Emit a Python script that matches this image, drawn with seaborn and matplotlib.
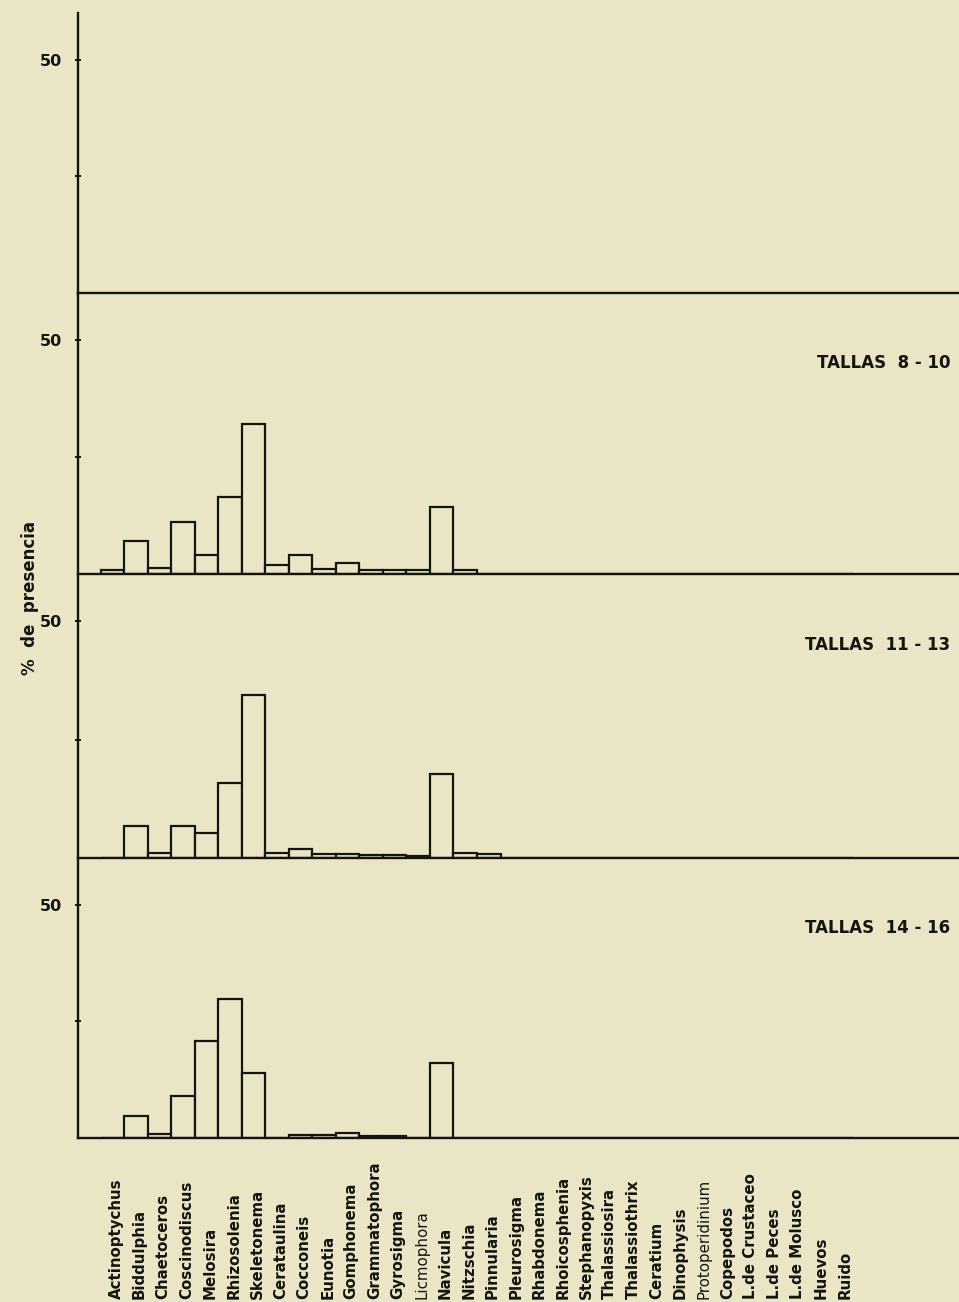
import matplotlib
matplotlib.use("Agg")
import matplotlib.pyplot as plt
import matplotlib.transforms as mtransforms
import seaborn as sns
import pandas as pd

# ---------------- data ----------------
categories = [
    "Actinoptychus", "Biddulphia", "Chaetoceros", "Coscinodiscus", "Melosira",
    "Rhizosolenia", "Skeletonema", "Cerataulina", "Cocconeis", "Eunotia",
    "Gomphonema", "Grammatophora", "Gyrosigma", "Licmophora", "Navicula",
    "Nitzschia", "Pinnularia", "Pleurosigma", "Rhabdonema", "Rhoicosphenia",
    "Stephanopyxis", "Thalassiosira", "Thalassiothrix", "Ceratium", "Dinophysis",
    "Protoperidinium", "Copepodos", "L.de Crustaceo", "L.de Peces",
    "L.de Molusco", "Huevos", "Ruido",
]

# top panel carries no bars
tallas_top = [0, 0, 0, 0, 0, 0, 0, 0, 0, 0, 0, 0, 0, 0, 0, 0,
              0, 0, 0, 0, 0, 0, 0, 0, 0, 0, 0, 0, 0, 0, 0, 0]
tallas_8_10 = [0.9, 7.1, 1.3, 11.2, 4.1, 16.5, 32.1, 2.0, 4.1, 1.1, 2.3, 0.9,
               0.9, 0.9, 14.2, 0.9, 0, 0, 0, 0, 0, 0, 0, 0, 0, 0, 0, 0, 0, 0, 0, 0]
tallas_11_13 = [0, 6.8, 1.1, 6.8, 5.3, 15.8, 34.5, 1.1, 2.0, 0.8, 0.8, 0.6,
                0.6, 0.5, 17.7, 1.0, 0.8, 0, 0, 0, 0, 0, 0, 0, 0, 0, 0, 0, 0, 0, 0, 0]
tallas_14_16 = [0, 4.8, 0.9, 8.9, 20.8, 29.8, 14.0, 0, 0.7, 0.7, 1.1, 0.5,
                0.4, 0, 16.0, 0, 0, 0, 0, 0, 0, 0, 0, 0, 0, 0, 0, 0, 0, 0, 0, 0]

panel_series = [tallas_top, tallas_8_10, tallas_11_13, tallas_14_16]
panel_titles = ["", "TALLAS  8 - 10", "TALLAS  11 - 13", "TALLAS  14 - 16"]
light_labels = ["Licmophora", "Protoperidinium"]
y_ticks = [25, 50]
y_ticklabels = ["", "50"]
y_label = "%  de  presencia"

# ---------------- style ----------------
sns.set_theme(style="ticks")
plt.rcParams["font.family"] = ["DejaVu Sans"]
BG = "#e9e5c5"
INK = "#161410"

fig = plt.figure(figsize=(9.59, 13.02), dpi=100, facecolor=BG)
W, H = 959, 1302
left = 78 / W
edges_px = [13, 293, 574, 858, 1138]

axes = []
for k, (vals, title) in enumerate(zip(panel_series, panel_titles)):
    top = 1 - edges_px[k] / H
    bottom = 1 - edges_px[k + 1] / H
    ax = fig.add_axes([left, bottom, 1 - left, top - bottom])
    ax.set_facecolor("none")
    df = pd.DataFrame({"taxon": categories, "pct": vals})
    if k > 0:
        sns.barplot(data=df, x="taxon", y="pct", order=categories,
                    color=BG, saturation=1, edgecolor=INK, linewidth=1.6,
                    width=1.0, ax=ax, errorbar=None)
    ax.set_xlim(-1.47, 36.0)
    ax.set_ylim(0, 60)
    ax.set_xlabel("")
    ax.set_ylabel("")
    ax.set_xticks([])
    ax.set_yticks(y_ticks)
    ax.set_yticklabels(y_ticklabels, fontsize=11.5, fontweight="bold", color=INK)
    ax.tick_params(axis="y", direction="inout", length=5, width=1.4,
                   color=INK, pad=9)
    for s in ["top", "right"]:
        ax.spines[s].set_visible(False)
    for s in ["left", "bottom"]:
        ax.spines[s].set_color(INK)
        ax.spines[s].set_linewidth(1.7)
    if title:
        ax.text(0.99, 45, title, transform=mtransforms.blended_transform_factory(
            ax.transAxes, ax.transData), ha="right", va="center",
            fontsize=12, fontweight="bold", color=INK)
    axes.append(ax)

# category labels along the bottom, anchored at the figure's lower edge
ax_b = axes[-1]
trans = mtransforms.blended_transform_factory(ax_b.transData, fig.transFigure)
for i, name in enumerate(categories):
    ax_b.text(i + 0.15, 0.002, name, transform=trans, rotation=90,
              ha="center", va="bottom", fontsize=10.8,
              fontweight="normal" if name in light_labels else "bold",
              color=INK, clip_on=False)

fig.text(30 / W, 1 - 598 / H, y_label, rotation=90, ha="center", va="center",
         fontsize=12, fontweight="bold", color=INK)

fig.savefig("out.png", dpi=100, facecolor=BG)
